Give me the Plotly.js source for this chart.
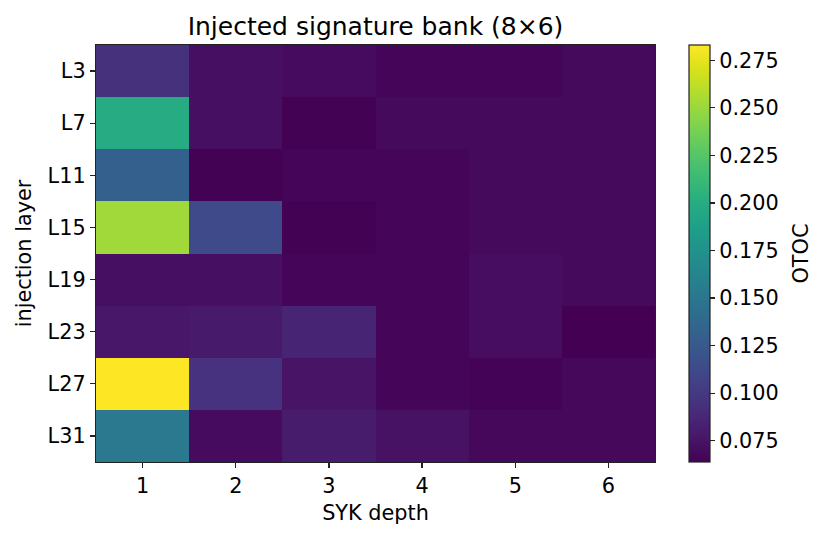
<!DOCTYPE html>
<html>
<head>
<meta charset="utf-8">
<script src="https://cdn.plot.ly/plotly-3.0.1.min.js"></script>
<style>
  html, body { margin: 0; padding: 0; background: #ffffff; }
  #chart { width: 827px; height: 540px; }
</style>
</head>
<body>
<div id="chart"></div>
<script>
// SYK depth (columns) and injection layers (rows)
const depths = [1, 2, 3, 4, 5, 6];
const layers = ["L3", "L7", "L11", "L15", "L19", "L23", "L27", "L31"];

// OTOC per injection layer, one array per row
const rowL3  = [0.094, 0.072, 0.070, 0.066, 0.066, 0.069];
const rowL7  = [0.198, 0.072, 0.0641, 0.069, 0.069, 0.069];
const rowL11 = [0.130, 0.0645, 0.067, 0.066, 0.069, 0.069];
const rowL15 = [0.252, 0.113, 0.0642, 0.066, 0.069, 0.069];
const rowL19 = [0.072, 0.072, 0.066, 0.066, 0.071, 0.069];
const rowL23 = [0.077, 0.079, 0.086, 0.067, 0.071, 0.0638];
const rowL27 = [0.283, 0.095, 0.075, 0.067, 0.065, 0.068];
const rowL31 = [0.152, 0.070, 0.080, 0.074, 0.068, 0.068];

const otoc = [rowL3, rowL7, rowL11, rowL15, rowL19, rowL23, rowL27, rowL31];

const cbTicks = [0.075, 0.100, 0.125, 0.150, 0.175, 0.200, 0.225, 0.250, 0.275];
const cbTitle = "OTOC";

const FONT = "DejaVu Sans";

const trace = {
  type: "heatmap",
  x: depths,
  y: layers,
  z: otoc,
  colorscale: "Viridis",
  zsmooth: false,
  xgap: 0,
  ygap: 0,
  colorbar: {
    x: 1.0608,
    xref: "paper",
    xanchor: "left",
    xpad: 0,
    y: 0.5,
    yanchor: "middle",
    ypad: 0,
    len: 1,
    lenmode: "fraction",
    thickness: 21,
    thicknessmode: "pixels",
    outlinewidth: 1.2,
    outlinecolor: "#222222",
    ticks: "outside",
    ticklen: 5,
    tickwidth: 1.2,
    tickcolor: "#222222",
    tickvals: cbTicks,
    tickformat: ".3f",
    tickfont: { family: FONT, size: 20.8, color: "#000000" }
  }
};

const layout = {
  width: 827,
  height: 540,
  paper_bgcolor: "#ffffff",
  plot_bgcolor: "#ffffff",
  margin: { l: 96, r: 172, t: 45, b: 78, pad: 0 },
  font: { family: FONT, size: 20.8, color: "#000000" },
  title: {
    text: "Injected signature bank (8×6)",
    font: { family: FONT, size: 25, color: "#000000" },
    xref: "paper",
    x: 0.5,
    xanchor: "center",
    yref: "container",
    y: 1 - 26 / 540,
    yanchor: "middle"
  },
  // colorbar label, rotated to read bottom to top
  annotations: [{
    text: cbTitle,
    xref: "paper",
    yref: "paper",
    x: 1.2594,
    y: 0.5,
    xanchor: "center",
    yanchor: "middle",
    textangle: -90,
    showarrow: false,
    font: { family: FONT, size: 20.8, color: "#000000" }
  }],
  xaxis: {
    title: { text: "SYK depth", font: { family: FONT, size: 20.8 }, standoff: 8 },
    tickvals: depths,
    ticks: "outside",
    ticklen: 5,
    tickwidth: 1.2,
    tickcolor: "#222222",
    showline: true,
    linecolor: "#222222",
    linewidth: 1.2,
    mirror: true,
    showgrid: false,
    zeroline: false,
    range: [0.5, 6.5],
    tickfont: { family: FONT, size: 20.8 }
  },
  yaxis: {
    title: { text: "injection layer", font: { family: FONT, size: 20.8 }, standoff: 10 },
    type: "category",
    autorange: "reversed",
    ticks: "outside",
    ticklen: 5,
    tickwidth: 1.2,
    tickcolor: "#222222",
    showline: true,
    linecolor: "#222222",
    linewidth: 1.2,
    mirror: true,
    showgrid: false,
    zeroline: false,
    tickfont: { family: FONT, size: 20.8 }
  }
};

Plotly.newPlot("chart", [trace], layout, { displayModeBar: false, staticPlot: true });
</script>
</body>
</html>
